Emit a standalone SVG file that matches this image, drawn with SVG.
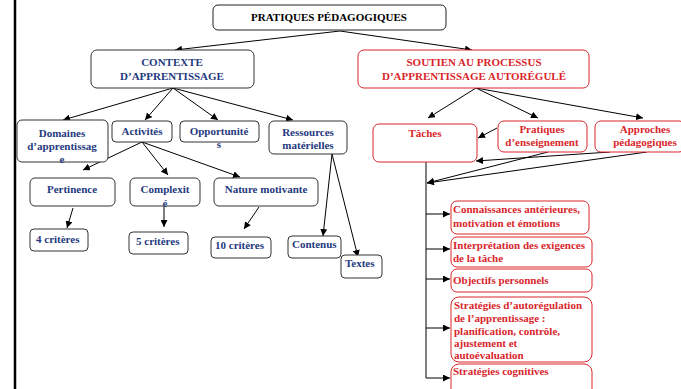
<svg xmlns="http://www.w3.org/2000/svg" width="681" height="389" viewBox="0 0 681 389">
<defs>
<marker id="ah" viewBox="0 0 10 10" refX="10" refY="5" markerWidth="7" markerHeight="7" markerUnits="userSpaceOnUse" orient="auto">
<path d="M0,0 L10,5 L0,10 z" fill="#000"/>
</marker>
<style>
text{font-family:"Liberation Serif","Times New Roman",serif;font-weight:bold;font-size:11px}
.b rect{fill:#fff;stroke:#333;stroke-width:1}
.b text{fill:#1f3a80}
.r rect{fill:#fff;stroke:#d9262c;stroke-width:1}
.r text{fill:#d9262c}
.k rect{fill:#fff;stroke:#222;stroke-width:1}
.k text{fill:#000}
.c{text-anchor:middle}
#connectors line,#connectors polyline{stroke:#000;stroke-width:1;fill:none}
#connectors .a{marker-end:url(#ah)}
</style>
</defs>
<rect width="681" height="389" fill="#fff"/>
<line x1="15" y1="0" x2="15" y2="389" stroke="#000" stroke-width="2.5"/>

<g id="connectors">
<line class="a" x1="340" y1="31" x2="175" y2="50"/>
<line class="a" x1="340" y1="31" x2="472" y2="50"/>
<line class="a" x1="173" y1="88" x2="63" y2="120"/>
<line class="a" x1="173" y1="88" x2="145" y2="120"/>
<line class="a" x1="173" y1="88" x2="218" y2="120"/>
<line class="a" x1="173" y1="88" x2="293" y2="120"/>
<line class="a" x1="142" y1="142" x2="83" y2="170"/>
<line class="a" x1="142" y1="142" x2="168" y2="175"/>
<line class="a" x1="142" y1="142" x2="240" y2="177"/>
<line class="a" x1="73" y1="208" x2="67" y2="228"/>
<line class="a" x1="164" y1="207" x2="164" y2="227"/>
<line class="a" x1="259" y1="207" x2="244" y2="229"/>
<line class="a" x1="332" y1="154" x2="323" y2="236"/>
<line class="a" x1="332" y1="154" x2="358" y2="257"/>
<line class="a" x1="476" y1="88" x2="428" y2="118"/>
<line class="a" x1="476" y1="88" x2="538" y2="118"/>
<line class="a" x1="476" y1="88" x2="643" y2="118"/>
<line class="a" x1="497" y1="128" x2="478" y2="138"/>
<line class="a" x1="610" y1="152" x2="476" y2="161"/>
<line class="a" x1="548" y1="152" x2="427" y2="183"/>
<line class="a" x1="647" y1="152" x2="427" y2="183"/>
<line x1="426" y1="162" x2="426" y2="378"/>
<line class="a" x1="426" y1="214" x2="450" y2="214"/>
<line class="a" x1="426" y1="249" x2="450" y2="249"/>
<line class="a" x1="426" y1="279" x2="450" y2="279"/>
<line class="a" x1="426" y1="328" x2="450" y2="328"/>
<line class="a" x1="426" y1="378" x2="450" y2="378"/>
</g>

<g id="pratiques" class="k">
<rect x="213" y="5" width="233" height="25" rx="5"/>
<text class="c" x="329" y="21">PRATIQUES PÉDAGOGIQUES</text>
</g>

<g id="contexte" class="b">
<rect x="91" y="50" width="163" height="38" rx="6"/>
<text class="c" x="172" y="66">CONTEXTE</text>
<text class="c" x="172" y="80">D’APPRENTISSAGE</text>
</g>

<g id="soutien" class="r">
<rect x="358" y="50" width="231" height="38" rx="6"/>
<text class="c" x="474" y="66">SOUTIEN AU PROCESSUS</text>
<text class="c" x="474" y="80">D’APPRENTISSAGE AUTORÉGULÉ</text>
</g>

<g id="domaines" class="b">
<rect x="17" y="120" width="91" height="42" rx="5"/>
<text class="c" x="62" y="137">Domaines</text>
<text class="c" x="62" y="150">d’apprentissag</text>
<text class="c" x="62" y="163">e</text>
</g>

<g id="activites" class="b">
<rect x="112" y="121" width="60" height="21" rx="4"/>
<text class="c" x="142" y="135">Activités</text>
</g>

<g id="opportunites" class="b">
<rect x="180" y="121" width="79" height="21" rx="4"/>
<text class="c" x="219" y="135">Opportunité</text>
<text class="c" x="219" y="148">s</text>
</g>

<g id="ressources" class="b">
<rect x="269" y="121" width="78" height="33" rx="5"/>
<text class="c" x="308" y="136">Ressources</text>
<text class="c" x="308" y="149">matérielles</text>
</g>

<g id="pertinence" class="b">
<rect x="30" y="178" width="85" height="28" rx="5"/>
<text class="c" x="72" y="193">Pertinence</text>
</g>

<g id="complexite" class="b">
<rect x="130" y="178" width="70" height="28" rx="5"/>
<text class="c" x="165" y="193">Complexit</text>
<text class="c" x="165" y="207">é</text>
</g>

<g id="nature" class="b">
<rect x="214" y="178" width="104" height="28" rx="5"/>
<text class="c" x="266" y="193">Nature motivante</text>
</g>

<g id="c4" class="b">
<rect x="30" y="229" width="58" height="22" rx="4"/>
<text x="36" y="243">4 critères</text>
</g>

<g id="c5" class="b">
<rect x="129" y="232" width="59" height="22" rx="4"/>
<text x="136" y="245">5 critères</text>
</g>

<g id="c10" class="b">
<rect x="211" y="237" width="60" height="21" rx="4"/>
<text x="215" y="249">10 critères</text>
</g>

<g id="contenus" class="b">
<rect x="288" y="236" width="53" height="22" rx="4"/>
<text x="292" y="248">Contenus</text>
</g>

<g id="textes" class="b">
<rect x="341" y="255" width="41" height="23" rx="4"/>
<text x="345" y="267">Textes</text>
</g>

<g id="taches" class="r">
<rect x="373" y="124" width="104" height="38" rx="6"/>
<text class="c" x="425" y="137">Tâches</text>
</g>

<g id="enseignement" class="r">
<rect x="498" y="121" width="89" height="31" rx="6"/>
<text class="c" x="542" y="133">Pratiques</text>
<text class="c" x="542" y="146">d’enseignement</text>
</g>

<g id="approches" class="r">
<rect x="595" y="121" width="90" height="31" rx="6"/>
<text class="c" x="645" y="133">Approches</text>
<text class="c" x="645" y="146">pédagogiques</text>
</g>

<g id="connaissances" class="r">
<rect x="451" y="201" width="138" height="33" rx="6"/>
<text x="453" y="213">Connaissances antérieures,</text>
<text x="453" y="227">motivation et émotions</text>
</g>

<g id="interpretation" class="r">
<rect x="451" y="237" width="141" height="30" rx="6"/>
<text x="453" y="249">Interprétation des exigences</text>
<text x="453" y="262">de la tâche</text>
</g>

<g id="objectifs" class="r">
<rect x="451" y="269" width="141" height="23" rx="6"/>
<text x="453" y="284">Objectifs personnels</text>
</g>

<g id="autoregulation" class="r">
<rect x="451" y="297" width="141" height="65" rx="8"/>
<text x="454" y="309">Stratégies d’autorégulation</text>
<text x="454" y="322">de l’apprentissage :</text>
<text x="454" y="335">planification, contrôle,</text>
<text x="454" y="347">ajustement et</text>
<text x="454" y="359">autoévaluation</text>
</g>

<g id="cognitives" class="r">
<rect x="451" y="364" width="141" height="40" rx="8"/>
<text x="453" y="375">Stratégies cognitives</text>
</g>
</svg>
